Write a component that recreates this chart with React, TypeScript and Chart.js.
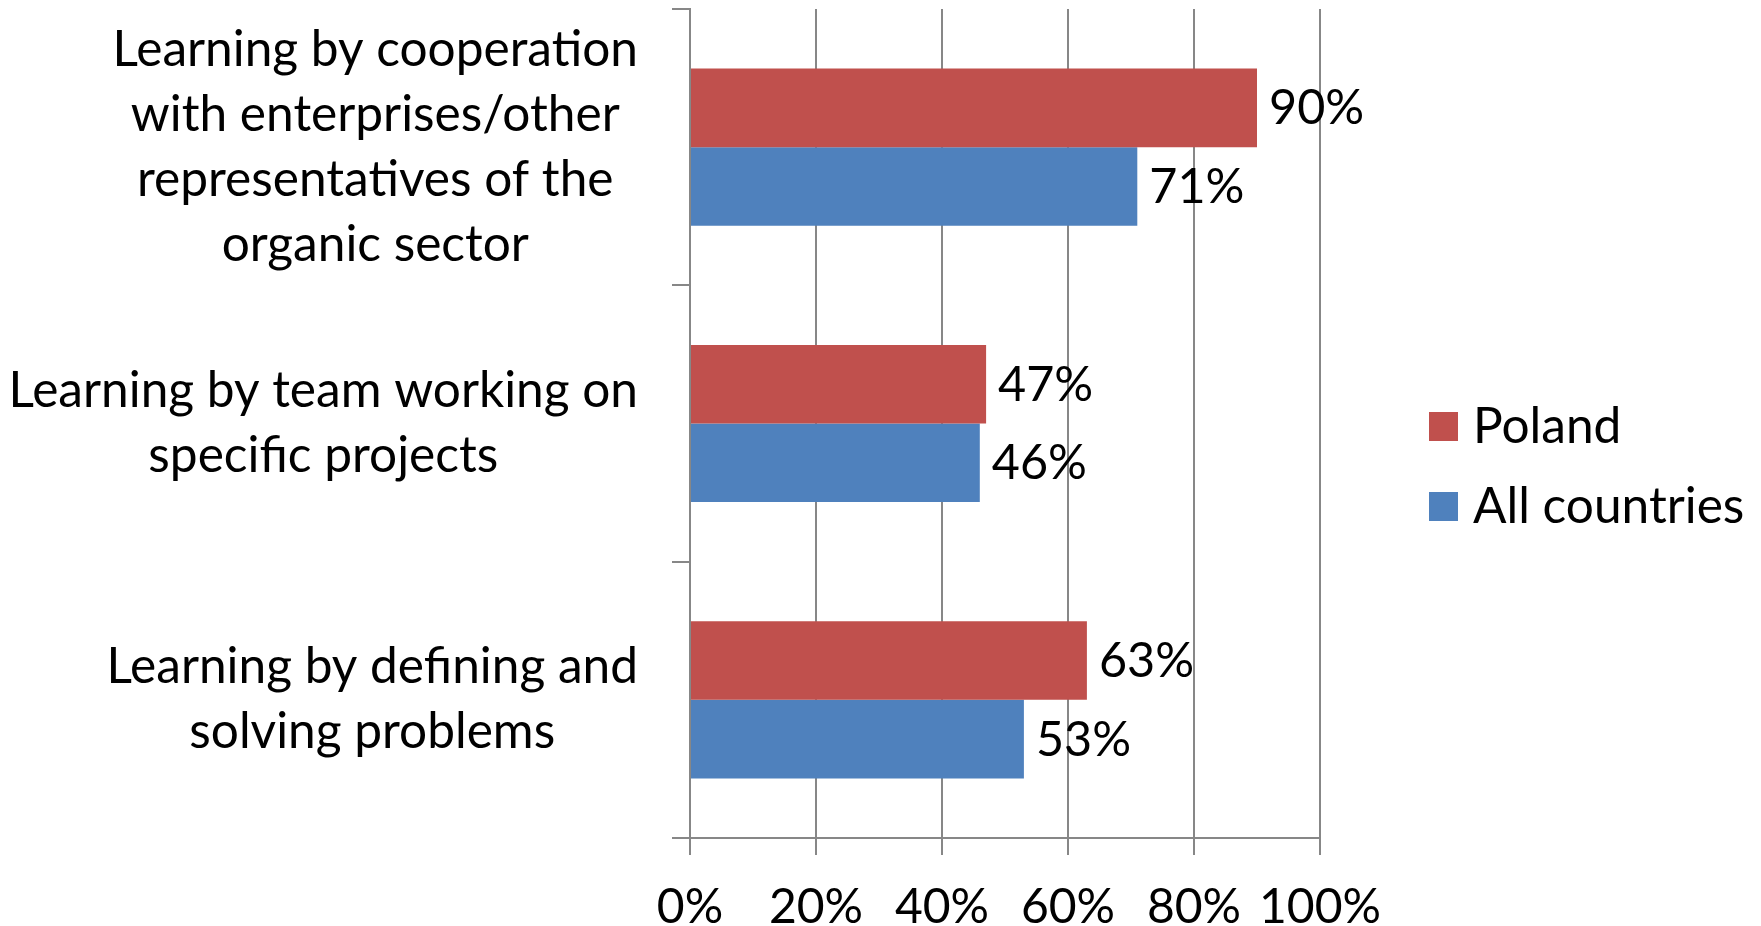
import React, { useEffect, useRef } from "react";
import { Chart, registerables } from "chart.js";

Chart.register(...registerables);

const categories: string[][] = [
  ["Learning by cooperation", "with enterprises/other", "representatives of the", "organic sector"],
  ["Learning by team working on", "specific projects"],
  ["Learning by defining and", "solving problems"],
];
const seriesNames = ["Poland", "All countries"];
const polandValues = [90, 47, 63];
const allCountriesValues = [71, 46, 53];
const seriesColors = ["#C0504D", "#4F81BD"];
const xMin = 0;
const xMax = 100;
const xStep = 20;

const FONT_FAMILY = "Lato, 'Open Sans', sans-serif";
const FONT_SIZE = 48;
const LABEL_FONT_SIZE = 49.6;
const GRID_COLOR = "#878787";

const W = 1761;
const H = 926;

const categoryLabelPlugin = {
  id: "categoryLabels",
  afterDraw(chart: any) {
    const { ctx, chartArea } = chart;
    const yScale = chart.scales.y;
    ctx.save();
    ctx.font = `${LABEL_FONT_SIZE}px ${FONT_FAMILY}`;
    ctx.fillStyle = "#000";
    ctx.textAlign = "center";
    ctx.textBaseline = "middle";
    const lineH = 65;
    const rightEdge = chartArea.left - 52;
    categories.forEach((lines, i) => {
      const y = yScale.getPixelForValue(i);
      const maxW = Math.max(...lines.map((l) => ctx.measureText(l).width));
      const cx = rightEdge - maxW / 2;
      lines.forEach((l, j) => {
        ctx.fillText(l, cx, y + (j - (lines.length - 1) / 2) * lineH);
      });
    });
    ctx.restore();
  },
};

const dataLabelPlugin = {
  id: "dataLabels",
  afterDatasetsDraw(chart: any) {
    const { ctx } = chart;
    ctx.save();
    ctx.font = `${FONT_SIZE + 0.5}px ${FONT_FAMILY}`;
    ctx.fillStyle = "#000";
    ctx.textAlign = "left";
    ctx.textBaseline = "middle";
    chart.data.datasets.forEach((ds: any, di: number) => {
      const meta = chart.getDatasetMeta(di);
      meta.data.forEach((bar: any, i: number) => {
        ctx.fillText(`${ds.data[i]}%`, bar.x + 12, bar.y + 1);
      });
    });
    ctx.restore();
  },
};

const legendPlugin = {
  id: "customLegend",
  afterDraw(chart: any) {
    const { ctx, chartArea } = chart;
    ctx.save();
    ctx.font = `${LABEL_FONT_SIZE}px ${FONT_FAMILY}`;
    ctx.textAlign = "left";
    ctx.textBaseline = "middle";
    const boxX = chartArea.right + 109;
    const centerY = (chartArea.top + chartArea.bottom) / 2 + 43;
    const spacing = 80;
    const box = 29;
    chart.data.datasets.forEach((ds: any, di: number) => {
      const cy = centerY + (di - (chart.data.datasets.length - 1) / 2) * spacing;
      ctx.fillStyle = ds.backgroundColor;
      ctx.fillRect(boxX, cy - box / 2, box, box);
      ctx.fillStyle = "#000";
      ctx.fillText(ds.label, boxX + box + 15, cy);
    });
    ctx.restore();
  },
};

export default function App() {
  const canvasRef = useRef<HTMLCanvasElement | null>(null);

  useEffect(() => {
    document.body.style.margin = "0";
    const canvas = canvasRef.current;
    if (!canvas) return;
    const chart = new Chart(canvas, {
      type: "bar",
      data: {
        labels: categories.map((c) => c.join(" ")),
        datasets: [
          {
            label: seriesNames[0],
            data: polandValues,
            backgroundColor: seriesColors[0],
            borderWidth: 0,
          },
          {
            label: seriesNames[1],
            data: allCountriesValues,
            backgroundColor: seriesColors[1],
            borderWidth: 0,
          },
        ],
      },
      options: {
        indexAxis: "y",
        responsive: false,
        animation: false,
        devicePixelRatio: 1,
        layout: { padding: { top: 9, right: 441, left: 0, bottom: 0 } },
        datasets: {
          bar: { barPercentage: 1, categoryPercentage: 0.569 },
        },
        plugins: {
          legend: { display: false },
          tooltip: { enabled: false },
        },
        scales: {
          x: {
            min: xMin,
            max: xMax,
            ticks: {
              stepSize: xStep,
              callback: (v: any) => `${v}%`,
              color: "#000",
              font: { family: FONT_FAMILY, size: FONT_SIZE },
              padding: 24,
              maxRotation: 0,
              autoSkip: false,
            },
            grid: {
              color: GRID_COLOR,
              lineWidth: 2,
              drawTicks: true,
              tickLength: 17,
              tickColor: GRID_COLOR,
            },
            border: { display: true, color: GRID_COLOR, width: 2 },
            afterFit: (scale: any) => {
              scale.height = 88;
            },
          },
          y: {
            type: "category",
            ticks: { display: false },
            grid: {
              drawOnChartArea: false,
              drawTicks: true,
              tickLength: 18,
              color: GRID_COLOR,
              lineWidth: 2,
              offset: true,
            },
            border: { display: true, color: GRID_COLOR, width: 2 },
            afterFit: (scale: any) => {
              scale.width = 690;
            },
          },
        },
      },
      plugins: [categoryLabelPlugin, dataLabelPlugin, legendPlugin],
    } as any);
    return () => chart.destroy();
  }, []);

  return (
    <div style={{ width: W, height: H }}>
      <canvas ref={canvasRef} width={W} height={H} style={{ display: "block" }} />
    </div>
  );
}
